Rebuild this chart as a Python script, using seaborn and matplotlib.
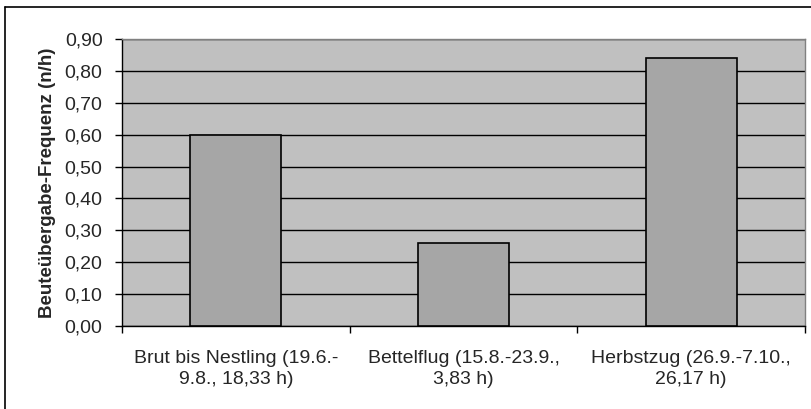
import matplotlib
matplotlib.use("Agg")
import matplotlib.pyplot as plt
import seaborn as sns
import pandas as pd
from matplotlib.ticker import FuncFormatter, FixedLocator
from matplotlib.lines import Line2D

categories = ["Brut bis Nestling (19.6.-\n9.8., 18,33 h)",
              "Bettelflug (15.8.-23.9.,\n3,83 h)",
              "Herbstzug (26.9.-7.10.,\n26,17 h)"]
values = [0.60, 0.26, 0.84]
y_ticks = [0.0, 0.1, 0.2, 0.3, 0.4, 0.5, 0.6, 0.7, 0.8, 0.9]
y_label = "Beuteübergabe-Frequenz (n/h)"

sns.set_style("white")
plt.rcParams['font.family'] = ['Liberation Sans', 'DejaVu Sans']

fig = plt.figure(figsize=(8.12, 4.09), dpi=100)
ax = fig.add_axes([122/812, 1-326/409, (805-122)/812, (326-39)/409])

df = pd.DataFrame({"cat": categories, "val": values})
sns.barplot(data=df, x="cat", y="val", ax=ax, color="#A6A6A6", saturation=1,
            width=0.4, edgecolor="black", linewidth=1.2, zorder=3)

ax.set_facecolor("#C0C0C0")
ax.set_ylim(0, 0.9)
ax.set_xlim(-0.5, 2.5)
ax.yaxis.set_major_locator(FixedLocator(y_ticks))
ax.yaxis.set_major_formatter(FuncFormatter(lambda v, p: f"{v:.2f}".replace(".", ",")))
ax.grid(axis="y", color="black", linewidth=1.0, zorder=1)
ax.set_axisbelow(True)

ax.tick_params(axis="y", direction="out", length=5, width=1, color="black",
               labelsize=14, pad=9, left=True)
ax.tick_params(axis="x", which="major", length=0, labelsize=14, pad=17)
ax.set_xticks([-0.5, 0.5, 1.5, 2.5], minor=True)
ax.tick_params(axis="x", which="minor", direction="out", length=5, width=1,
               color="black", bottom=True)
for lbl in ax.get_xticklabels():
    lbl.set_horizontalalignment("center")
    lbl.set_multialignment("center")
    lbl.set_linespacing(1.3)

ax.set_xlabel("")
ax.set_ylabel(y_label, fontsize=13.5, fontweight="bold", labelpad=6)

for s in ["top", "right"]:
    ax.spines[s].set_color("#808080")
    ax.spines[s].set_linewidth(1)
for s in ["left", "bottom"]:
    ax.spines[s].set_color("black")
    ax.spines[s].set_linewidth(1)

# outer chart border
fig.add_artist(Line2D([5/812, 5/812], [0, 1-7/409], color="black", linewidth=1.2,
                      transform=fig.transFigure))
fig.add_artist(Line2D([5/812, 1], [1-7/409, 1-7/409], color="black", linewidth=1.2,
                      transform=fig.transFigure))

fig.savefig("out.png", dpi=100)
